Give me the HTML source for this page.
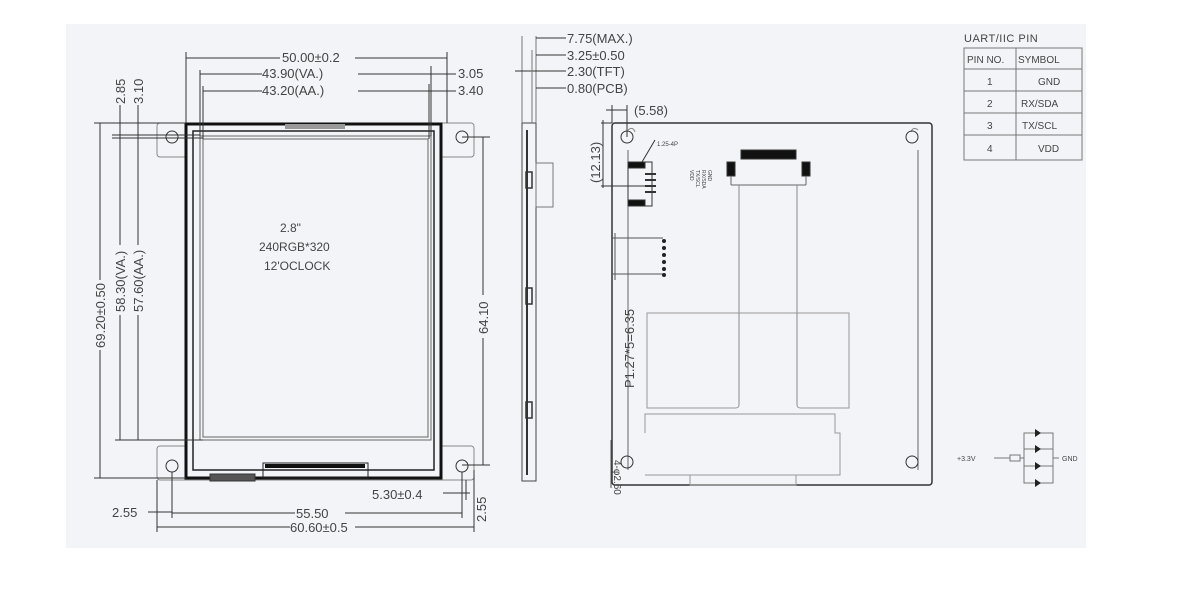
<!DOCTYPE html>
<html><head><meta charset="utf-8"><style>
html,body{margin:0;padding:0;background:#fff;}
svg{display:block;font-family:"Liberation Sans",sans-serif;}
text{fill:#444;}
</style></head><body>
<svg width="1198" height="592" viewBox="0 0 1198 592" xmlns="http://www.w3.org/2000/svg">
<rect x="66" y="24" width="1020" height="524" fill="#f3f4f8"/>
<g stroke="#333" fill="none" stroke-width="1">
<!-- FRONT VIEW -->
<rect x="157" y="123" width="317" height="34" rx="3" stroke="#888"/>
<rect x="157" y="446" width="317" height="34" rx="3" stroke="#888"/>
<rect x="186" y="124" width="255" height="354" fill="#f3f4f8" stroke="#111" stroke-width="3"/>
<rect x="193" y="131" width="241" height="339" stroke="#222" stroke-width="1.5"/>
<rect x="200" y="136" width="231" height="304" stroke="#666"/>
<rect x="203" y="139" width="225" height="298" stroke="#666"/>
<rect x="285" y="124" width="60" height="5" fill="#999" stroke="none"/>
<circle cx="172" cy="137" r="6"/><circle cx="462" cy="137" r="6"/>
<circle cx="172" cy="466" r="6"/><circle cx="462" cy="466" r="6"/>
<rect x="263" y="463" width="105" height="15" stroke="#222"/>
<rect x="265" y="464" width="100" height="4" fill="#111" stroke="none"/>
<rect x="210" y="474" width="45" height="7" fill="#555"/>
<!-- top dims -->
<line x1="186" y1="52" x2="186" y2="123"/><line x1="447" y1="52" x2="447" y2="123"/>
<line x1="186" y1="58" x2="280" y2="58"/><line x1="355" y1="58" x2="447" y2="58"/>
<line x1="200" y1="70" x2="200" y2="136"/><line x1="431" y1="66" x2="431" y2="136"/>
<line x1="200" y1="74" x2="262" y2="74"/><line x1="358" y1="74" x2="456" y2="74"/>
<line x1="203" y1="86" x2="203" y2="139"/><line x1="429" y1="84" x2="429" y2="139"/>
<line x1="203" y1="91" x2="262" y2="91"/><line x1="358" y1="91" x2="456" y2="91"/>
<!-- left dims -->
<line x1="94" y1="123" x2="186" y2="123"/><line x1="100" y1="123" x2="100" y2="280"/><line x1="100" y1="350" x2="100" y2="478"/>
<line x1="94" y1="478" x2="186" y2="478"/>
<line x1="112" y1="135" x2="200" y2="135"/><line x1="112" y1="138" x2="203" y2="138"/>
<line x1="120" y1="105" x2="120" y2="245"/><line x1="120" y1="315" x2="120" y2="440"/>
<line x1="138" y1="105" x2="138" y2="245"/><line x1="138" y1="315" x2="138" y2="440"/>
<line x1="115" y1="440" x2="203" y2="440"/>
<!-- right dim -->
<line x1="462" y1="137" x2="490" y2="137"/><line x1="462" y1="465" x2="490" y2="465"/>
<line x1="483" y1="137" x2="483" y2="295"/><line x1="483" y1="338" x2="483" y2="465"/>
<!-- bottom dims -->
<line x1="157" y1="480" x2="157" y2="532"/><line x1="474" y1="470" x2="474" y2="532"/>
<line x1="172" y1="472" x2="172" y2="518"/><line x1="462" y1="472" x2="462" y2="518"/>
<line x1="148" y1="512" x2="172" y2="512"/>
<line x1="172" y1="513" x2="295" y2="513"/><line x1="345" y1="513" x2="462" y2="513"/>
<line x1="157" y1="527" x2="290" y2="527"/><line x1="355" y1="527" x2="474" y2="527"/>
<line x1="443" y1="493" x2="470" y2="493"/><line x1="466" y1="480" x2="466" y2="500"/>
<!-- SIDE VIEW -->
<rect x="522" y="123" width="14" height="358" stroke="#444"/>
<line x1="527" y1="130" x2="527" y2="475" stroke-width="2"/>
<line x1="536" y1="36" x2="536" y2="123" stroke="#777"/><line x1="522" y1="36" x2="522" y2="123" stroke="#777"/>
<line x1="536" y1="38" x2="566" y2="38"/><line x1="536" y1="55" x2="566" y2="55"/>
<line x1="515" y1="71" x2="566" y2="71"/><line x1="536" y1="88" x2="566" y2="88"/>
<line x1="532" y1="50" x2="532" y2="123" stroke="#777"/>
<rect x="536" y="163" width="17" height="44" stroke="#777"/>
<rect x="526" y="172" width="6" height="16" stroke-width="1.5"/>
<rect x="526" y="288" width="6" height="16" stroke-width="1.5"/>
<rect x="526" y="402" width="6" height="16" stroke-width="1.5"/>
<!-- BACK VIEW -->
<rect x="612" y="123" width="320" height="362" rx="3" stroke="#333" stroke-width="1.5"/>
<line x1="628" y1="150" x2="628" y2="470" stroke="#666"/><line x1="918" y1="150" x2="918" y2="470" stroke="#666"/>
<path d="M628 130 Q633 126 635 132" stroke="#888"/><path d="M918 130 Q913 126 911 132" stroke="#888"/>
<circle cx="627" cy="137" r="6"/><circle cx="912" cy="137" r="6"/>
<circle cx="627" cy="462" r="6"/><circle cx="912" cy="462" r="6"/>
<line x1="601" y1="123" x2="612" y2="123"/><line x1="601" y1="186" x2="645" y2="186"/>
<line x1="606" y1="110" x2="627" y2="110"/><line x1="627" y1="105" x2="627" y2="137"/><line x1="612" y1="105" x2="612" y2="123"/>
<line x1="603" y1="120" x2="603" y2="188"/>
<rect x="628" y="162" width="24" height="44" stroke="#333"/>
<rect x="628" y="162" width="17" height="6" fill="#111"/><rect x="628" y="200" width="17" height="6" fill="#111"/>
<line x1="645" y1="174" x2="656" y2="174" stroke-width="2"/><line x1="645" y1="180" x2="656" y2="180" stroke-width="2"/>
<line x1="645" y1="186" x2="656" y2="186" stroke-width="2"/><line x1="645" y1="192" x2="656" y2="192" stroke-width="2"/>
<line x1="642" y1="162" x2="655" y2="140"/>
<rect x="741" y="150" width="55" height="9" fill="#111"/>
<rect x="727" y="162" width="8" height="14" fill="#111"/><rect x="802" y="162" width="8" height="14" fill="#111"/>
<line x1="731" y1="176" x2="731" y2="185" stroke="#666"/><line x1="806" y1="176" x2="806" y2="185" stroke="#666"/>
<line x1="731" y1="185" x2="806" y2="185" stroke="#666"/>
<line x1="739" y1="185" x2="739" y2="405" stroke="#888"/><line x1="797" y1="185" x2="797" y2="405" stroke="#888"/>
<path d="M739 405 Q739 408 735 408 L647 408 L647 313 L849 313 L849 408 L801 408 Q797 408 797 405" stroke="#999"/>
<path d="M645 433 L645 414 L835 414 L835 433 L840 433 L840 475 L645 475" stroke="#999"/>
<rect x="690" y="475" width="106" height="10" stroke="#999"/>
<line x1="612" y1="238" x2="663" y2="238" stroke="#555"/><line x1="612" y1="274" x2="663" y2="274" stroke="#555"/>
<line x1="615" y1="233" x2="615" y2="280" stroke="#555"/>
<line x1="611" y1="440" x2="611" y2="488" stroke="#555"/>
<!-- TABLE -->
<rect x="964" y="48" width="118" height="112" stroke="#777"/>
<line x1="964" y1="69" x2="1082" y2="69" stroke="#777"/><line x1="964" y1="91" x2="1082" y2="91" stroke="#777"/>
<line x1="964" y1="113" x2="1082" y2="113" stroke="#777"/><line x1="964" y1="135" x2="1082" y2="135" stroke="#777"/>
<line x1="1016" y1="48" x2="1016" y2="160" stroke="#777"/>
<!-- LED schematic -->
<g stroke="#777">
<line x1="994" y1="458" x2="1010" y2="458"/><rect x="1010" y="455" width="10" height="6"/><line x1="1020" y1="458" x2="1024" y2="458"/>
<rect x="1024" y="433" width="29" height="50"/>
<line x1="1024" y1="449" x2="1053" y2="449"/><line x1="1024" y1="466" x2="1053" y2="466"/>
<line x1="1053" y1="458" x2="1059" y2="458"/>
</g>
<g fill="#222" stroke="none">
<polygon points="1035,429 1041,433 1035,437"/><polygon points="1035,445 1041,449 1035,453"/>
<polygon points="1035,462 1041,466 1035,470"/><polygon points="1035,479 1041,483 1035,487"/>
<circle cx="664" cy="241" r="2"/><circle cx="664" cy="248" r="2"/><circle cx="664" cy="255" r="2"/>
<circle cx="664" cy="262" r="2"/><circle cx="664" cy="269" r="2"/><circle cx="664" cy="275" r="2"/>
</g>
</g>
<g fill="#444" font-size="13">
<text x="282" y="62">50.00±0.2</text>
<text x="262" y="78">43.90(VA.)</text>
<text x="262" y="95">43.20(AA.)</text>
<text x="458" y="78">3.05</text>
<text x="458" y="95">3.40</text>
<text x="280" y="232" font-size="12">2.8"</text>
<text x="259" y="251" font-size="12">240RGB*320</text>
<text x="264" y="270" font-size="12">12'OCLOCK</text>
<text transform="translate(105,348) rotate(-90)">69.20±0.50</text>
<text transform="translate(125,312) rotate(-90)">58.30(VA.)</text>
<text transform="translate(143,312) rotate(-90)">57.60(AA.)</text>
<text transform="translate(125,104) rotate(-90)">2.85</text>
<text transform="translate(143,104) rotate(-90)">3.10</text>
<text transform="translate(488,334) rotate(-90)">64.10</text>
<text x="112" y="517">2.55</text>
<text x="296" y="518">55.50</text>
<text x="290" y="532">60.60±0.5</text>
<text x="372" y="499">5.30±0.4</text>
<text transform="translate(486,522) rotate(-90)">2.55</text>
<text x="567" y="43">7.75(MAX.)</text>
<text x="567" y="60">3.25±0.50</text>
<text x="567" y="76">2.30(TFT)</text>
<text x="567" y="93">0.80(PCB)</text>
<text x="634" y="115">(5.58)</text>
<text transform="translate(600,183) rotate(-90)">(12.13)</text>
<text transform="translate(634,388) rotate(-90)">P1.27*5=6.35</text>
<text transform="translate(614,460) rotate(90)" font-size="10">4-φ2.60</text>
<text x="657" y="146" font-size="6">1.25-4P</text>
<text x="964" y="42" font-size="11" fill="#666" letter-spacing="0.5">UART/IIC  PIN</text>
<g font-size="10" fill="#666">
<text x="967" y="63">PIN  NO.</text><text x="1018" y="63">SYMBOL</text>
<text x="987" y="85">1</text><text x="1038" y="85">GND</text>
<text x="987" y="107">2</text><text x="1021" y="107">RX/SDA</text>
<text x="987" y="129">3</text><text x="1022" y="129">TX/SCL</text>
<text x="987" y="152">4</text><text x="1038" y="152">VDD</text>
<text x="957" y="461" font-size="7">+3.3V</text>
<text x="1062" y="461" font-size="7">GND</text>
</g>
<g font-size="5" fill="#222">
<text transform="translate(708,170) rotate(90)">GND</text>
<text transform="translate(702,170) rotate(90)">RX/SDA</text>
<text transform="translate(696,170) rotate(90)">TX/SCL</text>
<text transform="translate(690,170) rotate(90)">VDD</text>
</g>
</g>
</svg>
</body></html>
